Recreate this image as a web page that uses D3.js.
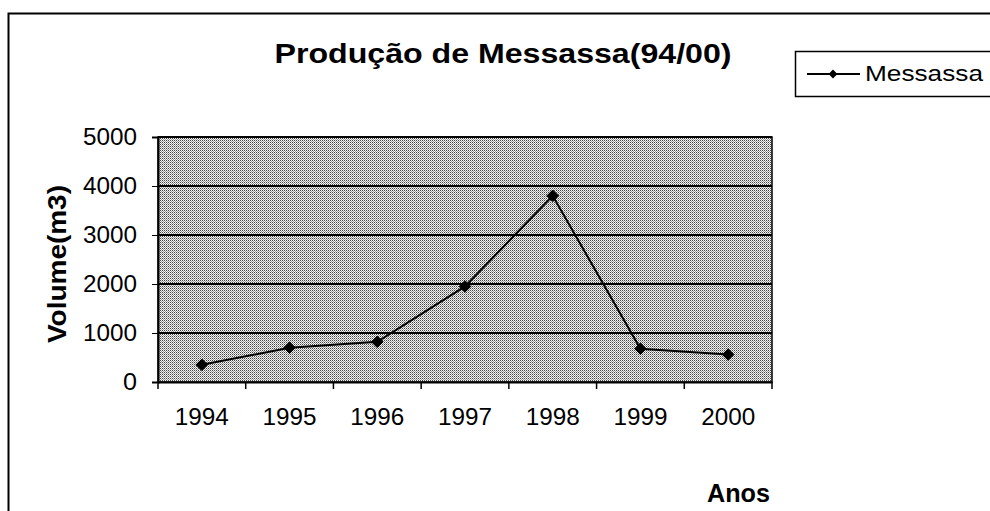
<!DOCTYPE html>
<html>
<head>
<meta charset="utf-8">
<script src="https://cdn.jsdelivr.net/npm/d3@7"></script>
<style>
  body { margin: 0; background: #fff; }
  svg { display: block; font-family: Arial, "Liberation Sans", sans-serif; }
</style>
</head>
<body>
<svg></svg>
<script>
    const years = ["1994", "1995", "1996", "1997", "1998", "1999", "2000"];
    const messassa = [350, 700, 820, 1950, 3800, 680, 560];
    const yTicks = [0, 1000, 2000, 3000, 4000, 5000];

    const svgWidth = 990;
    const svgHeight = 511;

    const svg = d3.select("svg")
        .attr("width", svgWidth)
        .attr("height", svgHeight);

    const margin = { left: 158, right: 772, top: 137, bottom: 382 };

    // halftone grey like the scanned excel fill
    const defs = svg.append("defs");
    const pat = defs.append("pattern")
        .attr("id", "dots")
        .attr("width", 2).attr("height", 2)
        .attr("patternUnits", "userSpaceOnUse");
    pat.append("rect").attr("width", 2).attr("height", 2).attr("fill", "#f4f4f4");
    pat.append("rect").attr("x", 0).attr("y", 0).attr("width", 1).attr("height", 1).attr("fill", "#444");
    pat.append("rect").attr("x", 1).attr("y", 1).attr("width", 1).attr("height", 1).attr("fill", "#999");

    // outer chart frame (cut off right and bottom)
    svg.append("path")
        .attr("d", "M8.5,511 L8.5,13.5 L990,13.5")
        .attr("fill", "none")
        .attr("stroke", "#000")
        .attr("stroke-width", 2);

    const x = d3.scaleBand()
        .domain(years)
        .range([margin.left, margin.right]);

    const y = d3.scaleLinear()
        .domain([0, 5000])
        .range([margin.bottom, margin.top]);

    svg.append("rect")
        .attr("x", margin.left)
        .attr("y", margin.top)
        .attr("width", margin.right - margin.left)
        .attr("height", margin.bottom - margin.top)
        .attr("fill", "url(#dots)")
        .attr("stroke", "#000")
        .attr("stroke-width", 1.5);

    // gridlines
    svg.append("g")
        .selectAll("line")
        .data(yTicks.filter(d => d > 0))
        .enter().append("line")
        .attr("x1", margin.left)
        .attr("x2", margin.right)
        .attr("y1", d => y(d))
        .attr("y2", d => y(d))
        .attr("stroke", "#000")
        .attr("stroke-width", 2);

    const yAxis = svg.append("g")
        .attr("transform", `translate(${margin.left},0)`)
        .call(d3.axisLeft(y).tickValues(yTicks).tickFormat(d3.format("d")).tickSize(6).tickPadding(15));
    yAxis.select(".domain").attr("stroke-width", 2);
    yAxis.selectAll("text")
        .attr("font-size", 23)
        .attr("fill", "#000")
        .attr("textLength", d => d === 0 ? 14 : 54)
        .attr("lengthAdjust", "spacingAndGlyphs");

    const xAxis = svg.append("g")
        .attr("transform", `translate(0,${margin.bottom})`)
        .call(d3.axisBottom(x).tickSize(0).tickPadding(27));
    xAxis.select(".domain").attr("stroke-width", 2);
    xAxis.selectAll("text")
        .attr("font-size", 23)
        .attr("fill", "#000")
        .attr("textLength", 54)
        .attr("lengthAdjust", "spacingAndGlyphs");

    // category separator ticks
    svg.append("g")
        .selectAll("line")
        .data(years.concat(["end"]))
        .enter().append("line")
        .attr("x1", (d, i) => margin.left + i * x.step())
        .attr("x2", (d, i) => margin.left + i * x.step())
        .attr("y1", margin.bottom)
        .attr("y2", margin.bottom + 7)
        .attr("stroke", "#000")
        .attr("stroke-width", 1.5);

    const line = d3.line()
        .x((d, i) => x(years[i]) + x.bandwidth() / 2)
        .y(d => y(d));

    svg.append("path")
        .datum(messassa)
        .attr("d", line)
        .attr("fill", "none")
        .attr("stroke", "#000")
        .attr("stroke-width", 2);

    const diamond = d3.symbol().type(d3.symbolDiamond2).size(85);

    svg.selectAll(".pt")
        .data(messassa)
        .enter().append("path")
        .attr("class", "pt")
        .attr("d", diamond)
        .attr("transform", (d, i) => `translate(${x(years[i]) + x.bandwidth() / 2},${y(d)})`)
        .attr("fill", "#000")
        .attr("stroke", "#000")
        .attr("stroke-width", 1);

    svg.append("text")
        .attr("x", 503)
        .attr("y", 63)
        .attr("text-anchor", "middle")
        .attr("font-size", 28)
        .attr("font-weight", "bold")
        .attr("textLength", 457)
        .attr("lengthAdjust", "spacingAndGlyphs")
        .text("Produção de Messassa(94/00)");

    svg.append("text")
        .attr("transform", "translate(66,264) rotate(-90)")
        .attr("text-anchor", "middle")
        .attr("font-size", 25)
        .attr("font-weight", "bold")
        .attr("textLength", 158)
        .attr("lengthAdjust", "spacingAndGlyphs")
        .text("Volume(m3)");

    svg.append("text")
        .attr("x", 770)
        .attr("y", 502)
        .attr("text-anchor", "end")
        .attr("font-size", 26)
        .attr("font-weight", "bold")
        .attr("textLength", 63)
        .attr("lengthAdjust", "spacingAndGlyphs")
        .text("Anos");

    // legend
    const legend = svg.append("g");
    legend.append("rect")
        .attr("x", 795.5).attr("y", 51.5)
        .attr("width", 200).attr("height", 45)
        .attr("fill", "#fff")
        .attr("stroke", "#000")
        .attr("stroke-width", 1.5);
    legend.append("line")
        .attr("x1", 807).attr("x2", 860)
        .attr("y1", 74).attr("y2", 74)
        .attr("stroke", "#000").attr("stroke-width", 2);
    legend.append("path")
        .attr("d", d3.symbol().type(d3.symbolDiamond2).size(50))
        .attr("transform", "translate(833,74)")
        .attr("fill", "#000");
    legend.append("text")
        .attr("x", 865).attr("y", 81)
        .attr("font-size", 22)
        .attr("textLength", 118)
        .attr("lengthAdjust", "spacingAndGlyphs")
        .text("Messassa");
</script>
</body>
</html>
